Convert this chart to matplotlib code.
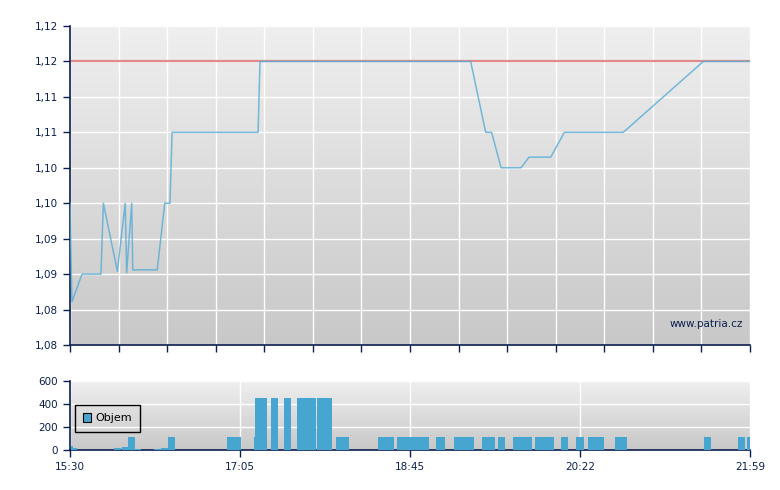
import numpy as np
import matplotlib
matplotlib.use("Agg")
import matplotlib.pyplot as plt
from matplotlib.colors import LinearSegmentedColormap
from matplotlib.patches import Patch

# ---- data (minutes after 15:30) ----
price_t = [0, 1.1, 6.9, 17.7, 19.1, 27.1, 31.6, 32.4, 35.3, 35.9, 49.9, 54.2, 57.2, 58.4,
           107.6, 108.7, 229.2, 237.8, 241.2, 246.6, 258.0, 262.6, 275.0, 282.8, 316.5,
           362.3, 389]
price_v = [1.100, 1.0861, 1.090, 1.090, 1.100, 1.0904, 1.100, 1.0902, 1.100, 1.0906, 1.0906,
           1.100, 1.100, 1.110, 1.110, 1.120, 1.120, 1.110, 1.110, 1.105, 1.105, 1.1065,
           1.1065, 1.110, 1.110, 1.120, 1.120]
ref_price = 1.12

vol_left = [0.4, 1.9, 25.2, 29.9, 33.2, 37.2, 48.1, 51.9, 56.1, 89.8, 105.3, 105.8, 115.0,
            122.4, 129.9, 141.3, 152.2, 176.2, 187.1, 209.4, 219.7, 235.7, 244.9, 253.4,
            266.0, 280.9, 289.5, 296.3, 311.8, 362.7, 382.2, 387.3]
vol_width = [1.5, 1.9, 3.8, 3.1, 4.0, 3.4, 3.8, 4.2, 4.0, 8.0, 0.6, 6.9, 4.0, 4.0, 10.9,
             8.6, 7.4, 9.2, 18.3, 5.1, 11.4, 7.4, 4.0, 10.9, 10.9, 4.0, 4.6, 9.2, 6.9,
             4.0, 4.0, 1.7]
vol_value = [35, 15, 20, 25, 115, 6, 6, 18, 115, 115, 115, 450, 450, 450, 450, 450, 115,
             115, 115, 115, 115, 115, 115, 115, 115, 115, 115, 115, 115, 115, 115, 115]

y_ticks = [1.080, 1.085, 1.090, 1.095, 1.100, 1.105, 1.110, 1.115, 1.120, 1.125]
y_labels = ["1,08", "1,08", "1,09", "1,09", "1,10", "1,10", "1,11", "1,11", "1,12", "1,12"]
x_labels = ["15:30", "17:05", "18:45", "20:22", "21:59"]
vol_ticks = [0, 200, 400, 600]

T_END = 389
navy = "#0b1f4f"
line_blue = "#55acd6"
bar_blue = "#47a6cf"

W, H = 780, 490
fig = plt.figure(figsize=(W / 100, H / 100), dpi=100)
plt.rcParams['font.family'] = ['DejaVu Sans']

def ax_rect(x0, y0, x1, y1):
    return [x0 / W, 1 - y1 / H, (x1 - x0) / W, (y1 - y0) / H]

ax1 = fig.add_axes(ax_rect(70, 26, 750, 345))
ax2 = fig.add_axes(ax_rect(70, 381, 750, 450))

cmap = LinearSegmentedColormap.from_list("g", ["#efefef", "#c8c8c8"])
grad = np.linspace(0, 1, 256).reshape(-1, 1)
for ax in (ax1, ax2):
    ax.imshow(grad, aspect="auto", cmap=cmap, extent=[0, 1, 0, 1],
              transform=ax.transAxes, zorder=0, origin="upper")
    for s in ("top", "right"):
        ax.spines[s].set_visible(False)
    for s in ("left", "bottom"):
        ax.spines[s].set_color(navy)
        ax.spines[s].set_linewidth(1.2)
    ax.tick_params(colors=navy, labelcolor=navy, labelsize=7.5, length=5, width=1)
    ax.set_xlim(0, T_END)
    ax.grid(True, color="white", linewidth=1, zorder=1)
    ax.set_axisbelow(True)

# top panel
ax1.set_ylim(1.08, 1.125)
ax1.set_yticks(y_ticks)
ax1.set_yticklabels(y_labels)
ax1.set_xticks(np.linspace(0, T_END, 15))
ax1.set_xticklabels([])
ax1.axhline(ref_price, color="#e38b8b", linewidth=1.6, zorder=2)
ax1.plot(price_t, price_v, color=line_blue, linewidth=1.1, zorder=3, alpha=0.8)
ax1.text(0.99, 0.065, "www.patria.cz", transform=ax1.transAxes, ha="right",
         va="center", fontsize=7.5, color=navy)

# bottom panel
ax2.set_ylim(0, 600)
ax2.set_yticks(vol_ticks)
ax2.set_xticks(np.linspace(0, T_END, 5))
ax2.set_xticklabels(x_labels)
ax2.bar(vol_left, vol_value, width=vol_width, align="edge", color=bar_blue,
        linewidth=0, zorder=3)
leg = ax2.legend(handles=[Patch(facecolor=bar_blue, edgecolor="black", linewidth=0.8, label="Objem")],
                 loc="upper left", bbox_to_anchor=(0.007, 0.652), frameon=True, fancybox=False,
                 fontsize=8, handlelength=0.75, handleheight=0.75, handletextpad=0.35,
                 borderpad=0.75, borderaxespad=0, facecolor="none", edgecolor="black",
                 framealpha=1)
leg.get_frame().set_linewidth(1)
leg.get_frame().set_facecolor("none")

fig.savefig("out.png", dpi=100)
